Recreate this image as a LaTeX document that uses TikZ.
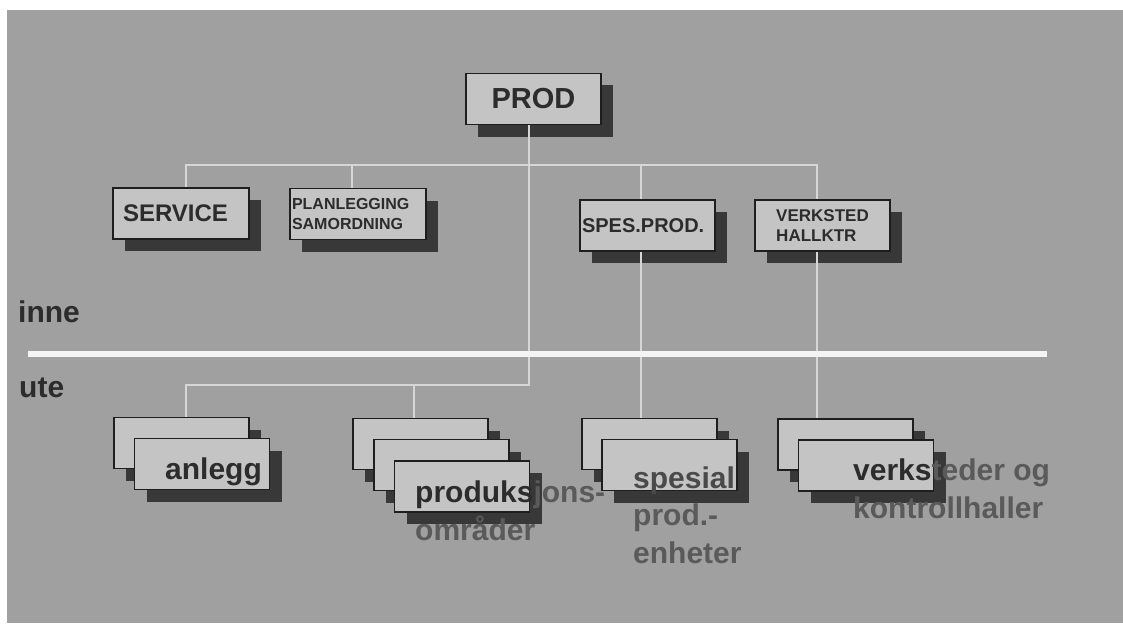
\documentclass[tikz,border=0pt]{standalone}
\usepackage{fontspec}
\setmainfont{Liberation Sans}
\usetikzlibrary{shadows}
\definecolor{bg}{HTML}{A0A0A0}
\definecolor{boxfill}{HTML}{C4C4C4}
\definecolor{boxline}{HTML}{1E1E1E}
\definecolor{shade}{HTML}{383838}
\definecolor{linecol}{HTML}{D6D6D6}
\definecolor{divcol}{HTML}{F4F4F4}
\definecolor{darktxt}{HTML}{2C2C2C}
\definecolor{greytxt}{HTML}{5A5A5A}
\definecolor{midtxt}{HTML}{4A4A4A}
\begin{document}
\begin{tikzpicture}[x=1pt,y=-1pt,
  box/.style={draw=boxline, line width=1.3pt, fill=boxfill,
    minimum width=135pt, minimum height=51pt, inner sep=0pt,
    drop shadow={shadow xshift=12pt, shadow yshift=-12pt, fill=shade, opacity=1}},
  conn/.style={draw=linecol, line width=1.5pt},
  divider/.style={draw=divcol, line width=6pt},
  lowtxt/.style={inner sep=0pt, anchor=base west, align=left, text=greytxt,
    font=\fontsize{30}{37.5}\selectfont\bfseries},
  sidetxt/.style={inner sep=0pt, anchor=base west, text=darktxt,
    font=\fontsize{30}{36}\selectfont\bfseries}]
\useasboundingbox (0,0) rectangle (1123,623);
\fill[white] (0,0) rectangle (1123,623);
\fill[bg] (7,10) rectangle (1123,623);

% upper level
\node[box, text=darktxt, font=\fontsize{29}{34}\selectfont\bfseries] (prod) at (533.5,99) {PROD};
\node[box, text=darktxt, font=\fontsize{24}{28}\selectfont\bfseries,
  text width=116pt, inner xsep=10pt, align=left] (service) at (181,213.5) {SERVICE};
\node[box, text=darktxt, font=\fontsize{16}{20}\selectfont\bfseries,
  text width=132pt, inner xsep=2pt, align=left] (plan) at (358,214) {PLANLEGGING\\SAMORDNING};
\node[box, text=darktxt, font=\fontsize{20}{24}\selectfont\bfseries,
  text width=131pt, inner xsep=2pt, align=left] (spes) at (647.5,225.5) {SPES.PROD.};
\node[box, text=darktxt, font=\fontsize{17}{20}\selectfont\bfseries, align=left] (verk) at (822.5,225.5) {VERKSTED\\HALLKTR};

% lower level stacks
\node[box] (anl1) at (181.5,443) {};
\node[box] (anl2) at (202,464) {};
\node[box] (pro1) at (420.5,444) {};
\node[box] (pro2) at (441.5,465) {};
\node[box] (pro3) at (462,486.5) {};
\node[box] (spe1) at (649.5,444) {};
\node[box] (spe2) at (669.5,465) {};
\node[box] (ver1) at (845.5,444.5) {};
\node[box] (ver2) at (866,465.5) {};

% lower texts (base anchor = baseline of last line)
\node[lowtxt] (tanl) at (165,479) {\color{darktxt}anlegg};
\node[lowtxt] (tpro) at (415,540) {{\color{darktxt}produks}jons-\\områder};
\node[lowtxt] (tspe) at (633,563) {{\color{midtxt}spesial}\\prod.-\\enheter};
\node[lowtxt] (tver) at (853,518) {{\color{darktxt}verks}teder og\\kontrollhaller};

% side labels
\node[sidetxt] (inne) at (18,322) {inne};
\node[sidetxt] (ute) at (19,397) {ute};

% connectors
\coordinate (bus) at (0,165);
\coordinate (lbus) at (0,385);
\draw[conn] ([xshift=5pt]service.north) -- ([xshift=5pt]service.north |- bus)
  -- ([xshift=-5.5pt]verk.north |- bus) -- ([xshift=-5.5pt]verk.north);
\draw[conn] ([xshift=-6pt]plan.north) -- ([xshift=-6pt]plan.north |- bus);
\draw[conn] ([xshift=-6.5pt]spes.north) -- ([xshift=-6.5pt]spes.north |- bus);
\draw[conn] ([xshift=-4.5pt]prod.south) -- ([xshift=-4.5pt]prod.south |- lbus)
  -- ([xshift=4.5pt]anl1.north |- lbus) -- ([xshift=4.5pt]anl1.north);
\draw[conn] ([xshift=-6.5pt]pro1.north) -- ([xshift=-6.5pt]pro1.north |- lbus);
\draw[conn] ([xshift=-6.5pt]spes.south) -- ([xshift=-6.5pt]spes.south |- spe1.north);
\draw[conn] ([xshift=-5.5pt]verk.south) -- ([xshift=-5.5pt]verk.south |- ver1.north);

% divider between inne and ute
\coordinate (dl) at (28,353.5);
\coordinate (dr) at (1047,353.5);
\draw[divider] (dl) -- (dr);
\end{tikzpicture}
\end{document}
